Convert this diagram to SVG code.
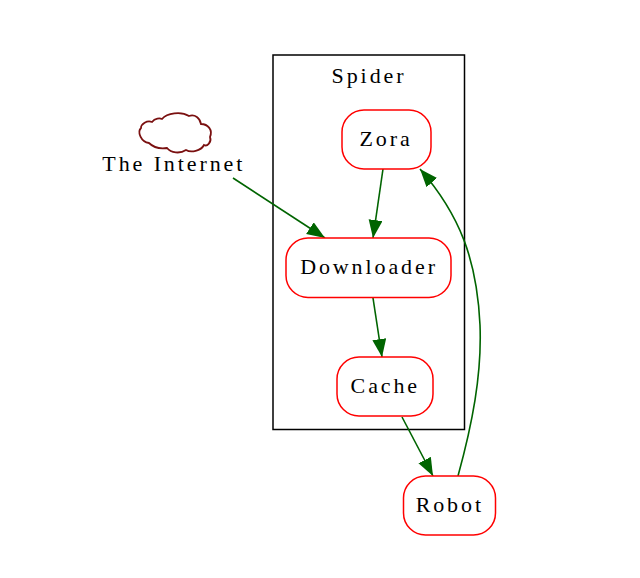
<svg xmlns="http://www.w3.org/2000/svg" width="640" height="578" viewBox="0 0 640 578">
<style>
text{font-family:"Liberation Serif","Times New Roman",serif;font-size:22px;letter-spacing:2.9px;fill:#000;text-anchor:middle}
.n{fill:#fff;stroke:#f00;stroke-width:1.5}
.e{fill:none;stroke:#006400;stroke-width:1.6}
</style>
<defs><marker id="a" markerUnits="userSpaceOnUse" markerWidth="20" markerHeight="16" refX="18" refY="7" orient="auto"><path d="M0 0L18 7L0 14z" fill="#006400"/></marker></defs>
<rect width="640" height="578" fill="#fff"/>
<g id="cluster-spider"><rect x="273" y="55" width="191.500" height="374.500" fill="none" stroke="#000" stroke-width="1.500"/><text x="369" y="83">Spider</text></g>
<g id="connectors">
<path class="e" marker-end="url(#a)" d="M383 169L373 238"/>
<path class="e" marker-end="url(#a)" d="M233 178L325 238"/>
<path class="e" marker-end="url(#a)" d="M373 298L382 357"/>
<path class="e" marker-end="url(#a)" d="M402 417L433 476"/>
<path class="e" marker-end="url(#a)" d="M458 476C472 425 482 375 480 325C477 260 460 215 420 169"/>
</g>
<g id="internet"><path d="M149 143C141 142 137 132 141 128C141 124 147 120 152 122C155 118 160 118 162 119C167 113 181 111 189 116C195 114 200 118 201 124C208 124 213 130 210 137C212 142 207 147 204 145C201 151 191 153 186 150C180 154 171 153 167 148C160 149 153 147 149 143Z" fill="#fff" stroke="#7a1010" stroke-width="1.800"/><text x="173.800" y="170.500">The Internet</text></g>
<g id="zora"><rect class="n" x="342" y="110" width="89" height="59" rx="22" ry="22"/><text x="386" y="145.500">Zora</text></g>
<g id="downloader"><rect class="n" x="286" y="238" width="165" height="59.500" rx="22" ry="22"/><text x="369" y="274">Downloader</text></g>
<g id="cache"><rect class="n" x="337" y="357" width="96" height="59" rx="22" ry="22"/><text x="385.300" y="392.500">Cache</text></g>
<g id="robot"><rect class="n" x="403.500" y="476" width="92" height="59" rx="22" ry="22"/><text x="449.800" y="512">Robot</text></g>
</svg>
